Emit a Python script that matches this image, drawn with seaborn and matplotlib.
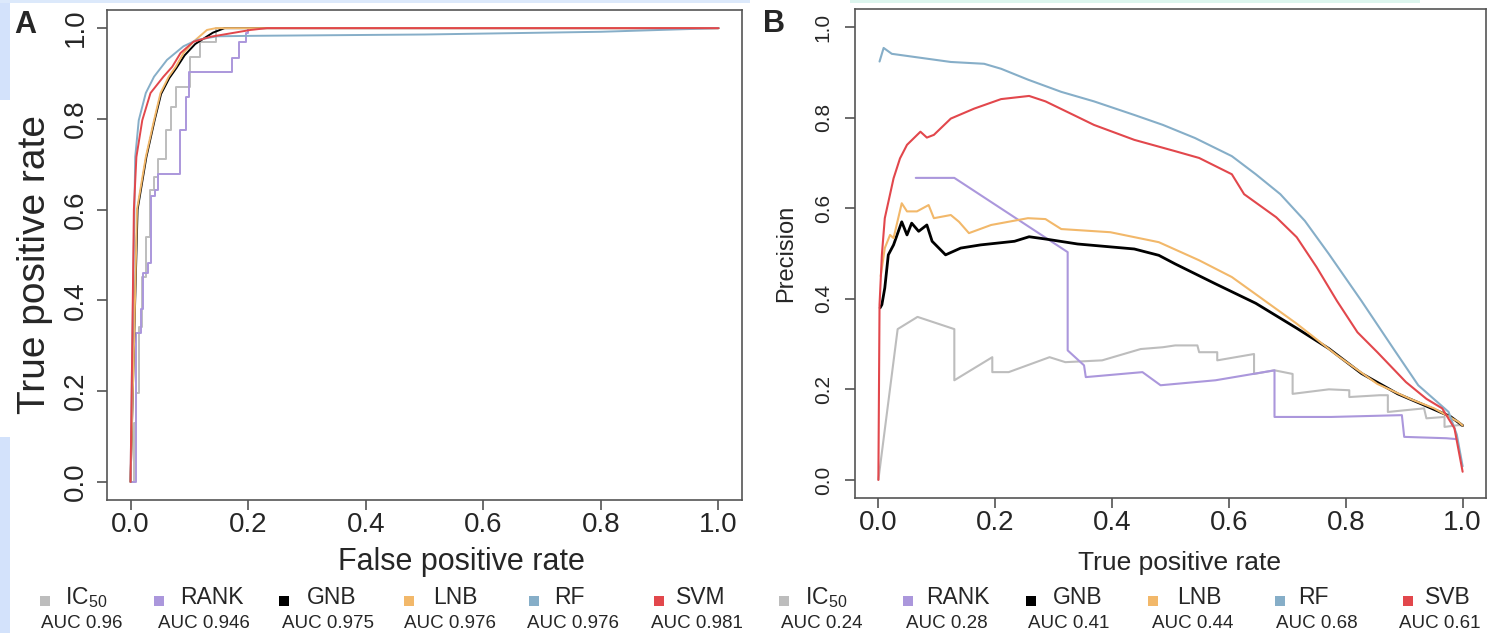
import numpy as np
import pandas as pd
import matplotlib
matplotlib.use('Agg')
import matplotlib.pyplot as plt
import seaborn as sns
from matplotlib.patches import Rectangle

# legend info
roc_names = ['IC50', 'RANK', 'GNB', 'LNB', 'RF', 'SVM']
roc_auc = ['0.96', '0.946', '0.975', '0.976', '0.976', '0.981']
pr_names = ['IC50', 'RANK', 'GNB', 'LNB', 'RF', 'SVB']
pr_auc = ['0.24', '0.28', '0.41', '0.44', '0.68', '0.61']
colors = ['#bdbdbd', '#ab97dc', '#000000', '#f2b86a', '#86aec8', '#e2474c']

# ---- panel A: ROC curves (IC50 and RANK are staircases) ----
roc_ic50_fpr = [0, 0.006, 0.010, 0.014, 0.020, 0.026, 0.033, 0.040, 0.047, 0.060, 0.068, 0.077, 0.102, 0.119, 0.145, 1.0]
roc_ic50_tpr = [0, 0.129, 0.195, 0.342, 0.452, 0.540, 0.643, 0.672, 0.711, 0.775, 0.827, 0.871, 0.937, 0.970, 1.0, 1.0]
roc_rank_fpr = [0, 0.0085, 0.018, 0.022, 0.030, 0.034, 0.042, 0.047, 0.085, 0.094, 0.099, 0.173, 0.185, 0.196, 0.199, 1.0]
roc_rank_tpr = [0, 0.328, 0.38, 0.461, 0.483, 0.63, 0.643, 0.678, 0.775, 0.849, 0.904, 0.935, 0.97, 0.99, 1.0, 1.0]
roc_gnb_fpr = [0, 0.006, 0.012, 0.027, 0.041, 0.052, 0.066, 0.078, 0.092, 0.11, 0.14, 0.16, 1.0]
roc_gnb_tpr = [0, 0.306, 0.6, 0.716, 0.797, 0.855, 0.89, 0.912, 0.94, 0.965, 0.99, 1.0, 1.0]
roc_lnb_fpr = [0, 0.006, 0.011, 0.026, 0.04, 0.051, 0.065, 0.077, 0.09, 0.107, 0.13, 0.145, 1.0]
roc_lnb_tpr = [0, 0.306, 0.6, 0.716, 0.797, 0.857, 0.893, 0.915, 0.945, 0.97, 0.996, 1.0, 1.0]
roc_rf_fpr = [0, 0.003, 0.008, 0.014, 0.026, 0.04, 0.062, 0.09, 0.113, 0.147, 0.2, 0.5, 0.8, 1.0]
roc_rf_tpr = [0, 0.3, 0.716, 0.797, 0.857, 0.893, 0.93, 0.96, 0.974, 0.982, 0.983, 0.986, 0.992, 1.0]
roc_svm_fpr = [0, 0.003, 0.0057, 0.01, 0.02, 0.034, 0.056, 0.071, 0.085, 0.107, 0.136, 0.204, 0.232, 1.0]
roc_svm_tpr = [0, 0.306, 0.6, 0.716, 0.797, 0.857, 0.893, 0.915, 0.945, 0.97, 0.981, 0.996, 1.0, 1.0]

# ---- panel B: precision-recall curves ----
pr_ic50_rec = [0, 0.033, 0.067, 0.13, 0.13, 0.195, 0.195, 0.223, 0.293, 0.32, 0.383, 0.449, 0.487, 0.508, 0.546,
               0.549, 0.58, 0.58, 0.643, 0.643, 0.678, 0.709, 0.709, 0.771, 0.806, 0.806, 0.858, 0.872, 0.872,
               0.934, 0.938, 0.969, 0.969, 0.993, 1.0]
pr_ic50_prec = [0, 0.333, 0.36, 0.333, 0.22, 0.271, 0.238, 0.238, 0.271, 0.26, 0.264, 0.289, 0.293, 0.297, 0.297,
                0.282, 0.282, 0.264, 0.278, 0.234, 0.242, 0.234, 0.19, 0.2, 0.198, 0.183, 0.187, 0.187, 0.15,
                0.158, 0.136, 0.139, 0.117, 0.121, 0.12]
pr_rank_rec = [0.064, 0.13, 0.324, 0.324, 0.352, 0.355, 0.452, 0.483, 0.577, 0.678, 0.678, 0.775, 0.896, 0.9, 0.972, 0.99]
pr_rank_prec = [0.667, 0.667, 0.503, 0.286, 0.253, 0.227, 0.238, 0.209, 0.22, 0.242, 0.139, 0.139, 0.143, 0.095, 0.092, 0.09]
pr_gnb_rec = [0.003, 0.006, 0.011, 0.017, 0.026, 0.04, 0.049, 0.057, 0.069, 0.083, 0.092, 0.115, 0.141, 0.175,
              0.233, 0.258, 0.286, 0.341, 0.438, 0.48, 0.508, 0.577, 0.646, 0.716, 0.771, 0.827, 0.889, 0.938,
              0.979, 1.0]
pr_gnb_prec = [0.38, 0.387, 0.424, 0.497, 0.519, 0.57, 0.541, 0.567, 0.549, 0.563, 0.527, 0.497, 0.512, 0.519,
               0.527, 0.537, 0.532, 0.521, 0.51, 0.496, 0.477, 0.433, 0.39, 0.335, 0.29, 0.235, 0.19, 0.163,
               0.14, 0.12]
pr_lnb_rec = [0.004, 0.011, 0.02, 0.026, 0.04, 0.049, 0.066, 0.086, 0.095, 0.124, 0.138, 0.155, 0.193, 0.256,
              0.286, 0.313, 0.397, 0.48, 0.549, 0.605, 0.646, 0.716, 0.785, 0.854, 0.91, 0.951, 0.993, 1.0]
pr_lnb_prec = [0.45, 0.512, 0.541, 0.534, 0.611, 0.593, 0.593, 0.607, 0.578, 0.585, 0.57, 0.545, 0.563, 0.578,
               0.576, 0.554, 0.547, 0.525, 0.485, 0.448, 0.41, 0.345, 0.275, 0.212, 0.179, 0.158, 0.128, 0.12]
pr_rf_rec = [0.002, 0.009, 0.023, 0.124, 0.181, 0.21, 0.256, 0.313, 0.369, 0.438, 0.487, 0.542, 0.605, 0.646,
             0.688, 0.73, 0.771, 0.827, 0.882, 0.924, 0.976, 0.99, 1.0]
pr_rf_prec = [0.924, 0.954, 0.941, 0.923, 0.919, 0.908, 0.884, 0.857, 0.836, 0.806, 0.784, 0.755, 0.715, 0.675,
              0.631, 0.572, 0.499, 0.395, 0.289, 0.209, 0.15, 0.1, 0.03]
pr_svb_rec = [0, 0.002, 0.006, 0.011, 0.026, 0.037, 0.049, 0.072, 0.083, 0.095, 0.124, 0.164, 0.21, 0.258, 0.286,
              0.334, 0.369, 0.438, 0.508, 0.549, 0.605, 0.626, 0.681, 0.716, 0.75, 0.785, 0.82, 0.854, 0.903,
              0.938, 0.965, 0.986, 1.0]
pr_svb_prec = [0, 0.387, 0.497, 0.578, 0.666, 0.71, 0.74, 0.769, 0.756, 0.762, 0.798, 0.82, 0.841, 0.848, 0.836,
               0.806, 0.784, 0.751, 0.726, 0.711, 0.675, 0.631, 0.58, 0.536, 0.47, 0.395, 0.326, 0.282, 0.216,
               0.179, 0.158, 0.114, 0.018]

roc_x = [roc_ic50_fpr, roc_rank_fpr, roc_gnb_fpr, roc_lnb_fpr, roc_rf_fpr, roc_svm_fpr]
roc_y = [roc_ic50_tpr, roc_rank_tpr, roc_gnb_tpr, roc_lnb_tpr, roc_rf_tpr, roc_svm_tpr]
pr_x = [pr_ic50_rec, pr_rank_rec, pr_gnb_rec, pr_lnb_rec, pr_rf_rec, pr_svb_rec]
pr_y = [pr_ic50_prec, pr_rank_prec, pr_gnb_prec, pr_lnb_prec, pr_rf_prec, pr_svb_prec]

sns.set_style('white')
plt.rcParams['font.family'] = ['Liberation Sans', 'DejaVu Sans']
plt.rcParams['mathtext.default'] = 'regular'

W, H = 1487, 633
fig = plt.figure(figsize=(W / 100, H / 100), dpi=100)


def fx(px):
    return px / W


def fy(py):
    return 1 - py / H


axA = fig.add_axes([fx(107), fy(500), fx(742) - fx(107), fy(10) - fy(500)])
axB = fig.add_axes([fx(855), fy(498), fx(1486) - fx(855), fy(9) - fy(498)])

for i in range(6):
    steps = 'steps-post' if i < 2 else 'default'
    sns.lineplot(x=roc_x[i], y=roc_y[i], sort=False, estimator=None, color=colors[i],
                 lw=1.4, drawstyle=steps, ax=axA)
    sns.lineplot(x=pr_x[i], y=pr_y[i], sort=False, estimator=None, color=colors[i],
                 lw=2.0 if i == 2 else 1.5, ax=axB)

ticks = np.arange(0, 1.01, 0.2)
for ax, ysize, ypad in [(axA, 20, 6), (axB, 15, 9)]:
    ax.set_xlim(-0.04, 1.04)
    ax.set_ylim(-0.04, 1.04)
    ax.set_xticks(ticks)
    ax.set_yticks(ticks)
    ax.set_xticklabels([f'{t:.1f}' for t in ticks])
    ax.set_yticklabels([f'{t:.1f}' for t in ticks], rotation=90, va='center')
    ax.tick_params(axis='x', labelsize=20, length=7, width=1.1, pad=2, color='#444444', direction='out')
    ax.tick_params(axis='y', labelsize=ysize, length=7, width=1.1, pad=ypad, color='#444444', direction='out')
    ax.tick_params(bottom=True, left=True)
    for s in ax.spines.values():
        s.set_color('#555555')
        s.set_linewidth(1.2)
    ax.set_xlabel('')
    ax.set_ylabel('')

# axis titles and panel letters
fig.text(fx(461), fy(562), 'False positive rate', fontsize=22, ha='center', va='center')
fig.text(fx(1179), fy(563), 'True positive rate', fontsize=19, ha='center', va='center')
fig.text(fx(35), fy(265), 'True positive rate', fontsize=28, rotation=90, ha='center', va='center')
fig.text(fx(786), fy(253), 'Precision', fontsize=17, rotation=90, ha='center', va='center')
fig.text(fx(25), fy(25), 'A', fontsize=22, fontweight='bold', ha='center', va='center')
fig.text(fx(774), fy(24), 'B', fontsize=22, fontweight='bold', ha='center', va='center')

# legends under each panel
sq_A = [45, 159, 284, 409, 534, 659]
name_A = [65, 180, 307, 433, 554, 676]
auc_A = [82, 204, 328, 450, 573, 697]
sq_B = [784, 908, 1031, 1153, 1280, 1408]
name_B = [805, 926, 1053, 1177, 1298, 1425]
auc_B = [822, 947, 1069, 1193, 1317, 1440]
for names, aucs, sqs, nxs, axs_ in [(roc_names, roc_auc, sq_A, name_A, auc_A),
                                    (pr_names, pr_auc, sq_B, name_B, auc_B)]:
    for i in range(6):
        fig.add_artist(Rectangle((fx(sqs[i] - 5), fy(606)), 10 / W, 10 / H, transform=fig.transFigure,
                                 color=colors[i], lw=0))
        label = r'$\mathregular{IC_{50}}$' if names[i] == 'IC50' else names[i]
        fig.text(fx(nxs[i]), fy(598), label, fontsize=16.5, ha='left', va='center')
        fig.text(fx(axs_[i]), fy(624), f'AUC {aucs[i]}', fontsize=13.5, ha='center', va='center')

# light blue scraps at the image edges
for x0, y0, w, h, c in [(0, 0, 10, 100, '#d3e2fb'), (0, 437, 10, 196, '#d3e2fb'),
                        (0, 0, 750, 3, '#dce9fb'), (850, 0, 570, 3, '#dcf5ee')]:
    fig.add_artist(Rectangle((fx(x0), fy(y0 + h)), w / W, h / H, transform=fig.transFigure, color=c, lw=0))

fig.savefig('out.png', dpi=100)
